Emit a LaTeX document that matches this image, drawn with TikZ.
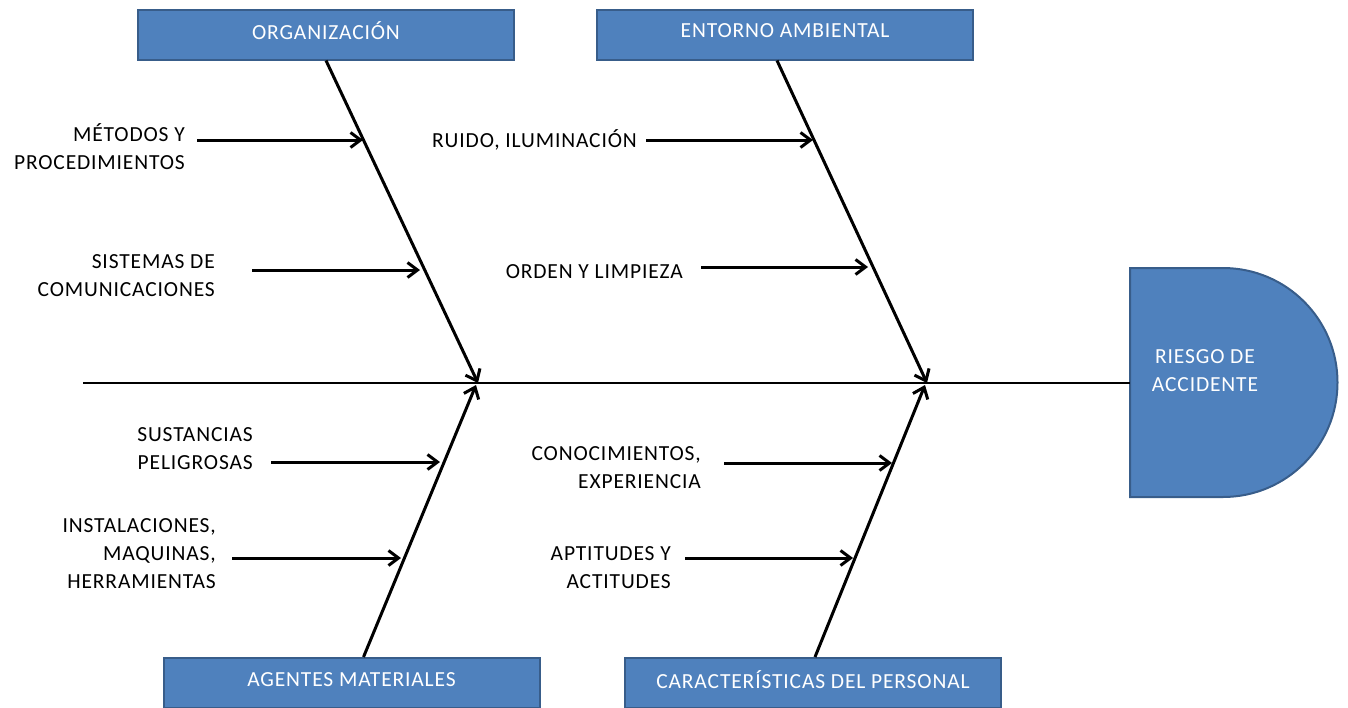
\documentclass[tikz,border=0pt]{standalone}
\usepackage{fontspec}
\setmainfont{Carlito}[LetterSpace=4]
\usetikzlibrary{arrows.meta}
\definecolor{boxfill}{HTML}{4F81BD}
\definecolor{boxline}{HTML}{385D8A}
\tikzset{
  catbox/.style={draw=boxline, line width=2pt, fill=boxfill, text=white, minimum width=376pt, minimum height=50pt, inner sep=0pt, font=\fontsize{21.5}{26}\selectfont},
  lbl/.style={align=right, inner sep=0pt, font=\fontsize{21.5}{28}\selectfont},
  bone/.style={line width=3pt, -{Straight Barb[length=10pt,width=16pt,line width=3pt]}},
  sub/.style={line width=3pt, -{Straight Barb[length=10pt,width=15pt,line width=3pt]}},
}
\begin{document}
\begin{tikzpicture}[x=1pt,y=-1pt]
\useasboundingbox (0,0) rectangle (1348,707);
% category boxes
\node[catbox] (org) at (326,34.5) {\raisebox{7pt}{ORGANIZACIÓN}};
\node[catbox] (ent) at (785,34.5) {\raisebox{7pt}{ENTORNO AMBIENTAL}};
\node[catbox] (agm) at (351.5,683) {\raisebox{7pt}{AGENTES MATERIALES}};
\node[catbox] (per) at (813,683) {\raisebox{7pt}{CARACTERÍSTICAS DEL PERSONAL}};
% effect
\draw[boxline, line width=2pt, fill=boxfill] (1130,268) -- (1223,268) arc[start angle=-90, end angle=90, radius=114.5] -- (1130,497) -- cycle;
\node[text=white, align=center, inner sep=0pt, font=\fontsize{21.5}{28}\selectfont] (riesgo) at (1205,371) {RIESGO DE\\ACCIDENTE};
\coordinate (effin) at (1130,383);
% spine
\coordinate (tail) at (83,383);
\coordinate (j1) at (478,383);
\coordinate (j2) at (927,383);
\coordinate (j3) at (476,385);
\coordinate (j4) at (925,385);
\draw[line width=2.5pt] (tail) -- (effin);
% bones
\draw[bone] (org.south) -- (j1);
\draw[bone] ([xshift=-8pt]ent.south) -- (j2);
\draw[bone] ([xshift=12pt]agm.north) -- (j3);
\draw[bone] ([xshift=2pt]per.north) -- (j4);
% labels
\node[lbl, anchor=east] (l1) at (185,146.5) {MÉTODOS Y\\PROCEDIMIENTOS};
\node[lbl, anchor=east] (l2) at (215,276) {SISTEMAS DE\\COMUNICACIONES};
\node[lbl, anchor=east] (l3) at (637,140) {RUIDO, ILUMINACIÓN};
\node[lbl, anchor=east] (l4) at (683,272) {ORDEN Y LIMPIEZA};
\node[lbl, anchor=east] (l5) at (253,449) {SUSTANCIAS\\PELIGROSAS};
\node[lbl, anchor=east] (l6) at (216,554) {INSTALACIONES,\\MAQUINAS,\\HERRAMIENTAS};
\node[lbl, anchor=east] (l7) at (701,468) {CONOCIMIENTOS,\\EXPERIENCIA};
\node[lbl, anchor=east] (l8) at (671,567.5) {APTITUDES Y\\ACTITUDES};
% sub-cause arrows
\coordinate (s1) at (197,140); \coordinate (e1) at (363,140);
\coordinate (s2) at (252,270); \coordinate (e2) at (420,270);
\coordinate (s3) at (646,140); \coordinate (e3) at (813,140);
\coordinate (s4) at (701,267); \coordinate (e4) at (868,267);
\coordinate (s5) at (271,462); \coordinate (e5) at (440,462);
\coordinate (s6) at (232,558); \coordinate (e6) at (401,558);
\coordinate (s7) at (724,463); \coordinate (e7) at (892,463);
\coordinate (s8) at (685,558); \coordinate (e8) at (853,558);
\foreach \i in {1,...,8} {\draw[sub] (s\i) -- (e\i);}
\end{tikzpicture}
\end{document}
